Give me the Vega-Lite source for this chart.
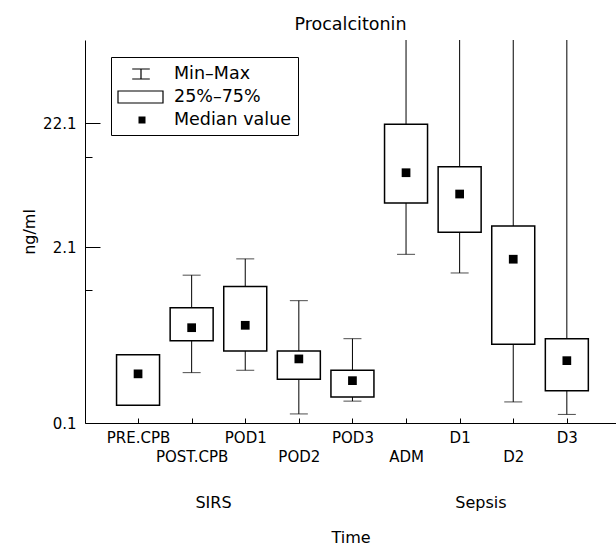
{
  "$schema": "https://vega.github.io/schema/vega-lite/v6.json",
  "autosize": "none",
  "padding": {"left": 85, "top": 40, "right": 0, "bottom": 123},
  "width": 531,
  "height": 383,
  "background": "white",
  "config": {
    "font": "DejaVu Sans",
    "view": {"stroke": null},
    "axis": {"domainColor": "black", "tickColor": "black", "labelColor": "black", "titleColor": "black", "grid": false, "titleFontWeight": "normal"}
  },
  "title": {"text": "Procalcitonin", "font": "DejaVu Sans", "fontSize": 17.5, "fontWeight": "normal", "color": "black", "offset": 7, "anchor": "middle"},
  "datasets": {
    "boxes": [
      {"time": "PRE.CPB", "group": "SIRS", "min": 0.136, "q1": 0.136, "median": 0.234, "q3": 0.326, "max": 0.326},
      {"time": "POST.CPB", "group": "SIRS", "min": 0.239, "q1": 0.415, "median": 0.52, "q3": 0.735, "max": 1.29},
      {"time": "POD1", "group": "SIRS", "min": 0.249, "q1": 0.347, "median": 0.542, "q3": 1.06, "max": 1.71},
      {"time": "POD2", "group": "SIRS", "min": 0.117, "q1": 0.213, "median": 0.303, "q3": 0.347, "max": 0.83},
      {"time": "POD3", "group": "SIRS", "min": 0.146, "q1": 0.157, "median": 0.208, "q3": 0.249, "max": 0.43},
      {"time": "ADM", "group": "Sepsis", "min": 1.85, "q1": 4.84, "median": 8.6, "q3": 21.6, "max": 150},
      {"time": "D1", "group": "Sepsis", "min": 1.34, "q1": 2.78, "median": 5.74, "q3": 9.64, "max": 150},
      {"time": "D2", "group": "Sepsis", "min": 0.144, "q1": 0.39, "median": 1.7, "q3": 3.13, "max": 150},
      {"time": "D3", "group": "Sepsis", "min": 0.116, "q1": 0.175, "median": 0.294, "q3": 0.43, "max": 150}
    ],
    "legendKeys": [
      {"key": "Min–Max"},
      {"key": "25%–75%"},
      {"key": "Median value"}
    ]
  },
  "encoding": {
    "x": {
      "field": "time",
      "type": "nominal",
      "sort": null,
      "scale": {"type": "point", "domain": ["PRE.CPB", "POST.CPB", "POD1", "POD2", "POD3", "ADM", "D1", "D2", "D3"], "padding": 0.9535, "align": 0.519},
      "axis": {
        "labelAngle": 0,
        "labelFontSize": 15,
        "tickSize": -5,
        "labelPadding": {"condition": {"test": "indexof(['POST.CPB','POD2','ADM','D2'], datum.value) >= 0", "value": 31}, "value": 12},
        "title": ["SIRS\u00a0\u00a0\u00a0\u00a0\u00a0\u00a0\u00a0\u00a0\u00a0\u00a0\u00a0\u00a0\u00a0\u00a0\u00a0\u00a0\u00a0\u00a0\u00a0\u00a0\u00a0\u00a0\u00a0\u00a0\u00a0\u00a0\u00a0\u00a0\u00a0\u00a0\u00a0\u00a0\u00a0\u00a0\u00a0\u00a0\u00a0\u00a0\u00a0\u00a0\u00a0\u00a0\u00a0\u00a0Sepsis", "Time"],
        "titleFontSize": 16,
        "titleLineHeight": 35,
        "titlePadding": 30,
        "labelOverlap": false
      }
    }
  },
  "layer": [
    {
      "data": {"name": "boxes"},
      "mark": {"type": "rule", "color": "black", "strokeWidth": 1, "clip": true},
      "encoding": {
        "y": {
          "field": "min",
          "type": "quantitative",
          "title": "ng/ml",
          "scale": {"type": "log", "domain": [0.1, 2.1, 22.1, 106.7], "range": [383, 207, 83, 0], "nice": false, "zero": false},
          "axis": {
            "values": [0.1, 1, 2.1, 11.6, 22.1],
            "labelExpr": "datum.value == 1 || datum.value == 11.6 ? '' : format(datum.value, '.1f')",
            "tickSize": {"condition": {"test": "datum.value == 1 || datum.value == 11.6", "value": -7}, "value": -15},
            "labelPadding": 24,
            "labelFontSize": 15,
            "titleFontSize": 16,
            "titlePadding": 5,
            "labelOverlap": false
          }
        },
        "y2": {"field": "max"}
      }
    },
    {
      "data": {"name": "boxes"},
      "mark": {"type": "tick", "orient": "horizontal", "color": "black", "size": 18, "thickness": 1, "clip": true},
      "encoding": {"y": {"field": "min", "type": "quantitative", "title": "ng/ml"}}
    },
    {
      "data": {"name": "boxes"},
      "mark": {"type": "tick", "orient": "horizontal", "color": "black", "size": 18, "thickness": 1, "clip": true},
      "encoding": {"y": {"field": "max", "type": "quantitative", "title": "ng/ml"}}
    },
    {
      "data": {"name": "boxes"},
      "mark": {"type": "bar", "width": 43, "fill": "white", "stroke": "black", "strokeWidth": 1.5},
      "encoding": {
        "y": {"field": "q1", "type": "quantitative", "title": "ng/ml"},
        "y2": {"field": "q3"}
      }
    },
    {
      "data": {"name": "boxes"},
      "mark": {"type": "point", "shape": "square", "filled": true, "color": "black", "size": 76, "opacity": 1},
      "encoding": {"y": {"field": "median", "type": "quantitative", "title": "ng/ml"}}
    },
    {
      "data": {"name": "legendKeys"},
      "mark": {"type": "point", "opacity": 0},
      "encoding": {
        "shape": {
          "field": "key",
          "type": "nominal",
          "scale": {
            "domain": ["Min–Max", "25%–75%", "Median value"],
            "range": [
              "M0.42,-0.5H2.18M1.3,-0.5V0.5M0.42,0.5H2.18",
              "M-1,-0.6H3.5V0.6H-1Z",
              "M1.11,-0.29H1.69V0.29H1.11ZM1.11,-0.2H1.69M1.11,-0.1H1.69M1.11,0H1.69M1.11,0.1H1.69M1.11,0.2H1.69"
            ]
          },
          "legend": {
            "title": null,
            "orient": "none",
            "legendX": 26,
            "legendY": 17,
            "padding": 6,
            "strokeColor": "black",
            "fillColor": "white",
            "symbolSize": 400,
            "symbolOpacity": 1,
            "symbolStrokeColor": "black",
            "symbolStrokeWidth": 1.2,
            "symbolFillColor": "transparent",
            "labelFontSize": 17.5,
            "labelColor": "black",
            "labelOffset": 35,
            "rowPadding": 3
          }
        }
      }
    }
  ],
  "resolve": {"scale": {"y": "shared"}}
}
